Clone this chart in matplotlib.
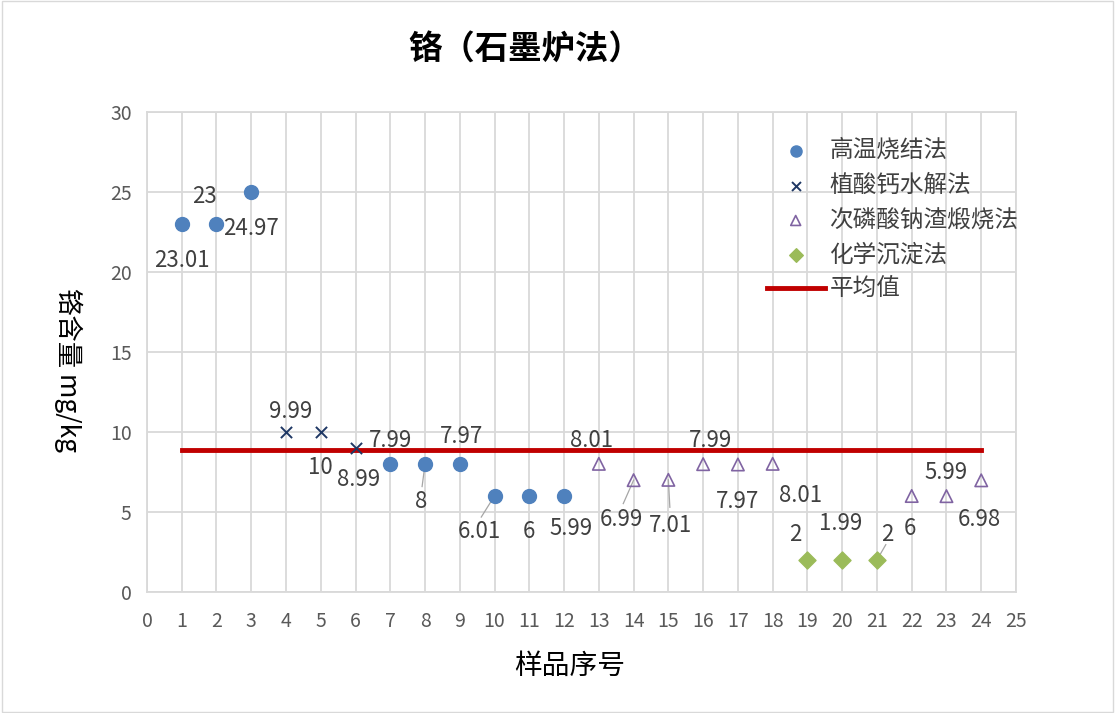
#!/usr/bin/env python3
"""
铬（石墨炉法）scatter of four pretreatment methods with the overall mean
"""

import matplotlib
matplotlib.use('Agg')
import matplotlib.pyplot as plt
from matplotlib.patches import Rectangle

plt.rcParams['font.family'] = ['Noto Sans CJK SC', 'DejaVu Sans']

# data
x_gw = [1, 2, 3, 7, 8, 9, 10, 11, 12]
y_gw = [23.01, 23, 24.97, 7.99, 8, 7.97, 6.01, 6, 5.99]
x_zs = [4, 5, 6]
y_zs = [9.99, 10, 8.99]
x_cl = [13, 14, 15, 16, 17, 18, 22, 23, 24]
y_cl = [8.01, 6.99, 7.01, 7.99, 7.97, 8.01, 6, 5.99, 6.98]
x_hx = [19, 20, 21]
y_hx = [2, 1.99, 2]

series_names = ['高温烧结法', '植酸钙水解法', '次磷酸钠渣煅烧法', '化学沉淀法']
mean_label = '平均值'
all_y = y_gw + y_zs + y_cl + y_hx
mean_val = sum(all_y) / len(all_y)

# data labels: (text, anchor x, anchor y, label x, label y, leader line)
labels = [
    ('23.01', 1, 23.01, 1.0, 20.7, False),
    ('23', 2, 23, 1.65, 24.7, False),
    ('24.97', 3, 24.97, 3.0, 22.7, False),
    ('9.99', 4, 9.99, 4.13, 11.3, False),
    ('10', 5, 10, 5.0, 7.75, False),
    ('8.99', 6, 8.99, 6.1, 7.05, False),
    ('7.99', 7, 7.99, 7.0, 9.45, False),
    ('8', 8, 8, 7.9, 5.65, True),
    ('7.97', 9, 7.97, 9.05, 9.7, False),
    ('6.01', 10, 6.01, 9.55, 3.8, True),
    ('6', 11, 6, 11.0, 3.75, False),
    ('5.99', 12, 5.99, 12.2, 3.95, False),
    ('8.01', 13, 8.01, 12.8, 9.45, False),
    ('6.99', 14, 6.99, 13.65, 4.55, True),
    ('7.01', 15, 7.01, 15.05, 4.15, True),
    ('7.99', 16, 7.99, 16.2, 9.45, False),
    ('7.97', 17, 7.97, 17.0, 5.65, False),
    ('8.01', 18, 8.01, 18.8, 6.05, False),
    ('2', 19, 2, 18.65, 3.6, False),
    ('1.99', 20, 1.99, 19.95, 4.25, False),
    ('2', 21, 2, 21.3, 3.6, True),
    ('6', 22, 6, 21.95, 3.95, False),
    ('5.99', 23, 5.99, 23.0, 7.45, False),
    ('6.98', 24, 6.98, 23.95, 4.55, False),
]

fig = plt.figure(figsize=(11.15, 7.13), dpi=100)
ax = fig.add_axes([0.1318, 0.1697, 0.7794, 0.6733])

grid_c = '#d9d9d9'
ax.set_xlim(0, 25)
ax.set_ylim(0, 30)
ax.set_xticks(range(0, 26))
ax.set_yticks(range(0, 31, 5))
ax.grid(True, color=grid_c, linewidth=1.3)
ax.set_axisbelow(True)
for s in ax.spines.values():
    s.set_color(grid_c)
    s.set_linewidth(1.3)
ax.tick_params(length=0, labelsize=14, colors='#595959')
ax.tick_params(axis='x', pad=14)
ax.tick_params(axis='y', pad=11)

ax.plot([1, 24], [mean_val, mean_val], color='#c00000', linewidth=3.5,
        label=mean_label, zorder=2)

ax.scatter(x_gw, y_gw, s=100, color='#4f81bd', marker='o', label=series_names[0], zorder=3)
ax.scatter(x_zs, y_zs, s=65, color='#1f3864', marker='x', linewidths=1.4,
           label=series_names[1], zorder=3)
ax.scatter(x_cl, y_cl, s=80, facecolors='none', edgecolors='#8064a2', marker='^',
           linewidths=1.2, label=series_names[2], zorder=3)
ax.scatter(x_hx, y_hx, s=75, color='#9bbb59', marker='D', label=series_names[3], zorder=3)

for txt, px, py, lx, ly, leader in labels:
    ax.text(lx, ly, txt, ha='center', va='center', fontsize=16, color='#404040', zorder=4)
    if leader:
        ex = lx + (px - lx) * 0.15
        ey = ly + (py - ly) * 0.4
        ax.plot([ex, px], [ey, py], color='#a6a6a6', linewidth=0.9, zorder=2)

handles, lbls = ax.get_legend_handles_labels()
order = [1, 2, 3, 4, 0]
leg = ax.legend([handles[i] for i in order], [lbls[i] for i in order],
                loc='upper right', bbox_to_anchor=(1.019, 0.973), frameon=False,
                fontsize=17, labelcolor='#404040', handlelength=2.45, markerscale=0.8,
                handletextpad=0.2, labelspacing=0.5, borderaxespad=0.2)

fig.text(525 / 1115, 1 - 50 / 713, '铬（石墨炉法）', fontsize=24, fontweight='bold',
         ha='center', va='center', color='black')
fig.text(570 / 1115, 1 - 666 / 713, '样品序号', fontsize=20, ha='center', va='center')
fig.text(68 / 1115, 1 - 370 / 713, '铬含量 mg/kg', fontsize=19, rotation=-90,
         ha='center', va='center')

fig.patches.append(Rectangle((0.002, 0.002), 0.996, 0.996, transform=fig.transFigure,
                             fill=False, edgecolor='#d9d9d9', linewidth=1))

fig.savefig('out.png', dpi=100)
